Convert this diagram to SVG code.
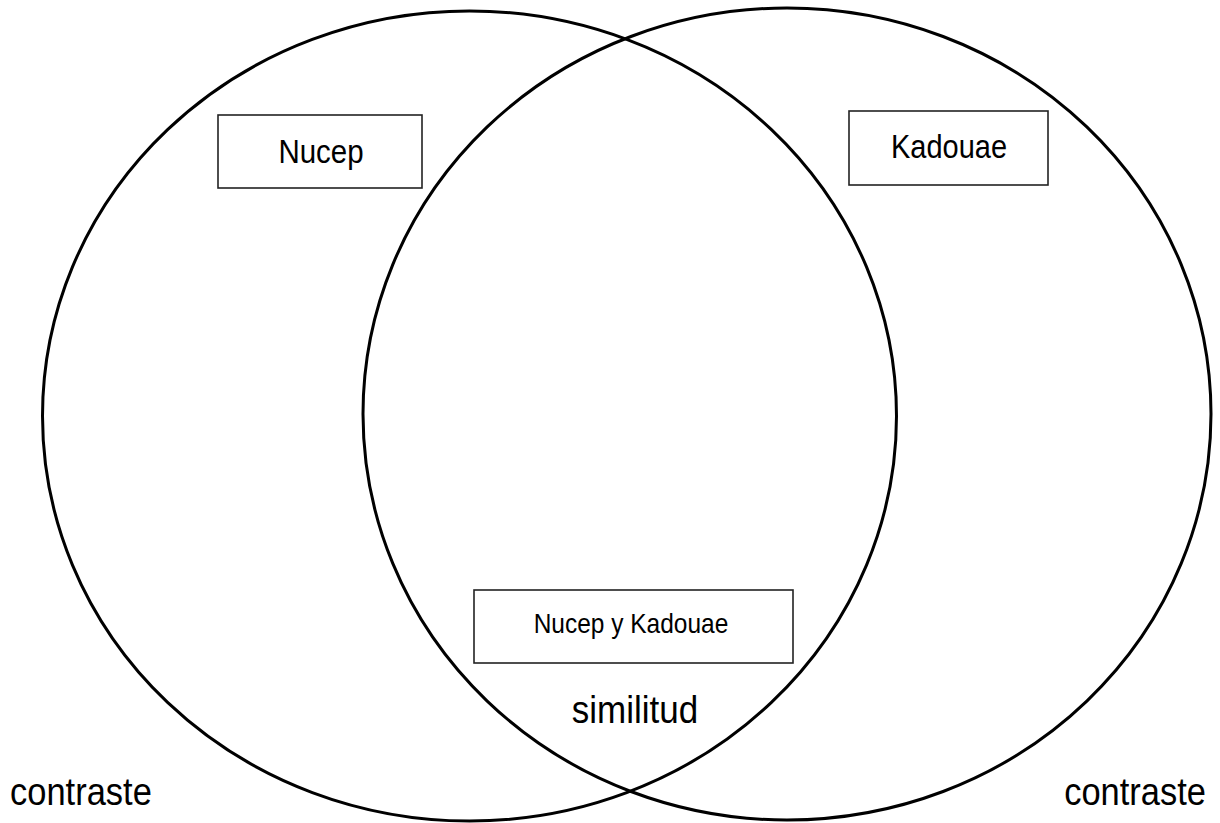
<svg xmlns="http://www.w3.org/2000/svg" width="1220" height="823" viewBox="0 0 1220 823">
<style>
.ring{fill:none;stroke:#000;stroke-width:3}
.box{fill:#fff;stroke:#222;stroke-width:1.6}
text{font-family:"Liberation Sans",Arial,sans-serif;fill:#000}
.c{text-anchor:middle}
</style>
<rect width="1220" height="823" fill="#fff"/>
<g id="circle-left"><ellipse class="ring" cx="469.5" cy="416" rx="427" ry="405"/></g>
<g id="circle-right"><ellipse class="ring" cx="787" cy="414" rx="424" ry="406"/></g>
<g id="node-nucep">
<rect class="box" x="218" y="115" width="204" height="73"/>
<text class="c" transform="translate(321,163) scale(1,1.12)" font-size="29.5">Nucep</text>
</g>
<g id="node-kadouae">
<rect class="box" x="849" y="111" width="199" height="74"/>
<text class="c" transform="translate(949,158) scale(1,1.12)" font-size="29">Kadouae</text>
</g>
<g id="node-both">
<rect class="box" x="474" y="590" width="319" height="73"/>
<text class="c" transform="translate(631,633) scale(1,1.12)" font-size="24.5">Nucep y Kadouae</text>
</g>
<g id="label-similitud"><text class="c" transform="translate(635,723) scale(1,1.1)" font-size="35">similitud</text></g>
<g id="label-contraste-left"><text transform="translate(10,805) scale(1,1.12)" font-size="34.5">contraste</text></g>
<g id="label-contraste-right"><text transform="translate(1206,805) scale(1,1.12)" font-size="34.5" text-anchor="end">contraste</text></g>
<g id="connectors"></g>
</svg>
